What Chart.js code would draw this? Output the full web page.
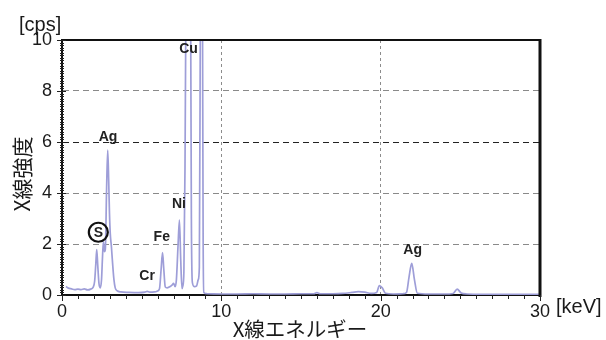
<!DOCTYPE html>
<html>
<head>
<meta charset="utf-8">
<script src="https://cdn.jsdelivr.net/npm/chart.js@4.4.1/dist/chart.umd.min.js"></script>
<style>
html,body{margin:0;padding:0;background:#fff;}
#wrap{width:606px;height:340px;}
</style>
</head>
<body>
<div id="wrap"><canvas id="c" width="606" height="340"></canvas></div>
<script>
// Spectrum: energy [keV] and intensity [cps]
const energyKeV = [0.25,0.4,0.6,0.8,1.0,1.2,1.4,1.6,1.8,1.95,2.05,2.12,2.18,2.24,2.32,2.4,2.48,2.55,2.6,2.66,2.72,2.8,2.87,2.93,2.98,3.03,3.1,3.18,3.26,3.34,3.45,3.7,4.2,4.8,5.2,5.35,5.5,5.8,6.0,6.12,6.22,6.31,6.39,6.48,6.6,6.79,6.92,7.0,7.1,7.18,7.28,7.37,7.45,7.53,7.58,7.65,7.72,7.8,7.93,8.06,8.12,8.18,8.3,8.45,8.55,8.62,8.68,8.75,8.82,8.86,8.9,9.1,10,11,12,13,14,15,15.8,16.0,16.2,17,17.6,18.2,18.6,19.0,19.4,19.75,19.92,20.1,20.3,20.8,21.4,21.62,21.78,21.95,22.12,22.3,23,24,24.55,24.8,25.05,25.4,26.5,28,30];
const intensityCps = [0.33,0.27,0.24,0.21,0.23,0.21,0.24,0.2,0.23,0.3,0.55,1.2,1.78,1.2,0.45,0.28,0.6,1.6,2.08,1.7,1.8,4.2,5.68,4.5,3.2,2.4,1.9,1.2,0.6,0.28,0.17,0.12,0.1,0.09,0.11,0.14,0.11,0.12,0.16,0.25,1.0,1.66,1.0,0.32,0.28,0.33,0.4,0.46,0.33,0.6,1.9,2.94,1.4,0.25,0.35,0.9,5,14,40,14,3,0.5,0.33,0.36,0.6,1.1,10.5,25,10.5,2,0.1,0.05,0.04,0.04,0.05,0.04,0.04,0.05,0.05,0.09,0.05,0.05,0.06,0.1,0.13,0.11,0.06,0.1,0.37,0.28,0.07,0.04,0.05,0.1,0.7,1.24,0.6,0.07,0.04,0.04,0.06,0.23,0.08,0.04,0.03,0.03,0.03];

const xTickValues = [0,10,20,30];
const yTickValues = [0,2,4,6,8,10];

// Peak annotations (in data coordinates)
const peakNames = ['Ag','Cu','Ni','Fe','Cr','Ag'];
const peakLabelKeV = [2.89,7.94,7.34,6.26,5.34,22.01];
const peakLabelCps = [6.18,9.65,3.57,2.25,0.75,1.76];
const circledName = 'S';
const circledKeV = 2.28;
const circledCps = 2.46;

const points = energyKeV.map((e,i)=>({x:e,y:intensityCps[i]}));

const FONT = "'Liberation Sans', Arial, sans-serif";
const JFONT = "'Noto Sans CJK JP', sans-serif";

const decor = {
  id:'decor',
  afterDraw(chart){
    const {ctx, chartArea:a, scales:{x,y}} = chart;
    ctx.save();
    // frame top and right
    ctx.strokeStyle='#111';
    ctx.lineWidth=2;
    ctx.beginPath(); ctx.moveTo(a.left-1,a.top); ctx.lineTo(a.right+1,a.top); ctx.stroke();
    ctx.lineWidth=3;
    ctx.beginPath(); ctx.moveTo(a.right,a.top-1); ctx.lineTo(a.right,a.bottom+2); ctx.stroke();
    // y ticks
    ctx.lineWidth=1;
    ctx.strokeStyle='#222';
    for(let i=0;i<=100;i++){
      const py = Math.round(y.getPixelForValue(i/10))+0.5;
      ctx.beginPath();
      if(i%20===0){ ctx.moveTo(a.left-5,py); ctx.lineTo(a.left+4,py); }
      else { ctx.moveTo(a.left-2,py); ctx.lineTo(a.left+2,py); }
      ctx.stroke();
    }
    // x ticks
    for(let k=0;k<=30;k++){
      const px = Math.round(x.getPixelForValue(k))+0.5;
      ctx.beginPath();
      ctx.moveTo(px,a.bottom);
      ctx.lineTo(px,a.bottom+(k%10===0?6:4));
      ctx.stroke();
    }
    // axis unit texts
    ctx.fillStyle='#1a1a1a';
    ctx.font="20px "+FONT;
    ctx.textBaseline='middle';
    ctx.textAlign='left';
    ctx.fillText('[cps]',19,25);
    ctx.fillText('[keV]',556,307);
    // axis titles
    ctx.font="20.5px "+JFONT;
    ctx.textAlign='center';
    ctx.fillText('X線エネルギー',300,329);
    ctx.save();
    ctx.translate(22,174);
    ctx.rotate(-Math.PI/2);
    ctx.font="21px "+JFONT;
    ctx.fillText('X線強度',0,0);
    ctx.restore();
    // peak labels
    ctx.font="bold 14px "+FONT;
    ctx.fillStyle='#222';
    peakNames.forEach((n,i)=>{
      ctx.fillText(n, x.getPixelForValue(peakLabelKeV[i]), y.getPixelForValue(peakLabelCps[i]));
    });
    const cx = x.getPixelForValue(circledKeV), cy = y.getPixelForValue(circledCps);
    ctx.lineWidth=2.2;
    ctx.strokeStyle='#111';
    ctx.beginPath(); ctx.arc(cx,cy,9.5,0,Math.PI*2); ctx.stroke();
    ctx.fillText(circledName,cx,cy+1);
    ctx.restore();
  }
};

new Chart(document.getElementById('c'),{
  type:'line',
  data:{datasets:[{
    data:points,
    borderColor:'rgb(158,158,216)',
    borderWidth:1.7,
    pointRadius:0,
    fill:false,
    cubicInterpolationMode:'monotone',
    tension:0.4
  }]},
  options:{
    responsive:false,
    animation:false,
    devicePixelRatio:1,
    layout:{padding:{top:40,right:66,left:0,bottom:0}},
    plugins:{legend:{display:false},tooltip:{enabled:false}},
    scales:{
      x:{
        type:'linear', min:0, max:30,
        afterFit(s){ s.height=45; },
        afterBuildTicks(s){ s.ticks = xTickValues.map(v=>({value:v})); },
        ticks:{ padding:6, color:'#1a1a1a', font:{family:FONT,size:18}, maxRotation:0, autoSkip:false,
          callback:(v)=>String(v) },
        grid:{ drawTicks:false,
          color:(c)=> (c.tick && (c.tick.value===10||c.tick.value===20)) ? '#8c8c8c' : 'rgba(0,0,0,0)',
          lineWidth:1 },
        border:{ display:true, color:'#111', width:2, dash:[3,3] }
      },
      y:{
        type:'linear', min:0, max:10,
        afterFit(s){ s.width=62; },
        afterBuildTicks(s){ s.ticks = yTickValues.map(v=>({value:v})); },
        ticks:{ padding:10, color:'#1a1a1a', font:{family:FONT,size:18}, autoSkip:false,
          callback:(v)=>String(v) },
        grid:{ drawTicks:false,
          color:(c)=>{ const v=c.tick?c.tick.value:null; if(v===6) return '#222'; if(v===2||v===4||v===8) return '#8a8a8a'; return 'rgba(0,0,0,0)'; },
          lineWidth:1 },
        border:{ display:true, color:'#111', width:2, dash:[6,4] }
      }
    }
  },
  plugins:[decor]
});
</script>
</body>
</html>
